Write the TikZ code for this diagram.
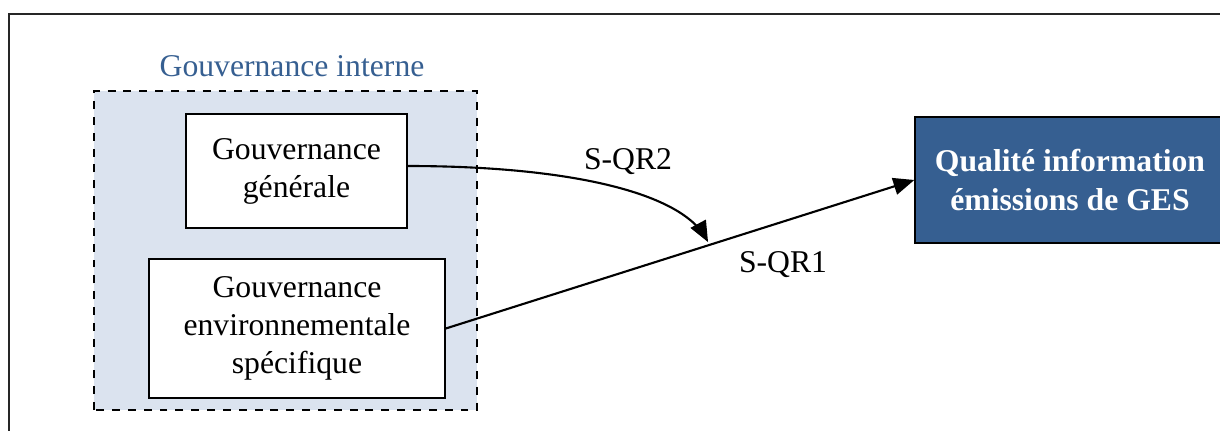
\documentclass[tikz,border=0pt]{standalone}
\usepackage{fontspec}
\setmainfont{Liberation Serif}
\usepackage{tikz}
\usetikzlibrary{arrows, calc}
\definecolor{govfill}{HTML}{DBE3EF}
\definecolor{govblue}{HTML}{365F91}

\begin{document}
\begin{tikzpicture}[x=0.3788pt, y=0.3788pt,
	txt/.style={font=\fontsize{12}{14.4}\selectfont, align=center},
	govbox/.style={txt, draw, line width=0.6pt, fill=white, inner sep=0pt},
	link/.style={line width=0.8pt, -triangle 45}]
	\useasboundingbox (0,0) rectangle (1220,430);
	\clip (0,0) rectangle (1220,430);
	\draw [line width=0.5pt, black!85] (9,-10) -- (9,416) -- (1240,416);
	% internal governance group
	\draw [dashed, line width=0.6pt, fill=govfill] (94,20) rectangle (477,339);
	\node (intlabel) [txt, text=govblue] at (292,364) {Gouvernance interne};
	\node (gen) [govbox, minimum width=83.7pt, minimum height=43.2pt] at (296.5,259) {Gouvernance\\générale};
	\node (env) [govbox, minimum width=112.1pt, minimum height=52.7pt] at (297,101.5) {Gouvernance\\environnementale\\spécifique};
	\node (qual) [txt, draw, line width=0.6pt, fill=govblue, text=white, font=\fontsize{12}{14.4}\selectfont\bfseries,
		inner sep=0pt, minimum width=117.4pt, minimum height=47.7pt] at (1070,250) {Qualité information\\émissions de GES};
	\coordinate (joint) at (708,188);
	\draw [link] (env.east) -- (qual.west);
	\draw [link] ($(gen.east)+(0,5)$) .. controls (560,264) and (680,240) .. (joint);
	\node (qr2) [txt] at (628,268) {S-QR2};
	\node (qr1) [txt] at (783,165) {S-QR1};
\end{tikzpicture}
\end{document}
